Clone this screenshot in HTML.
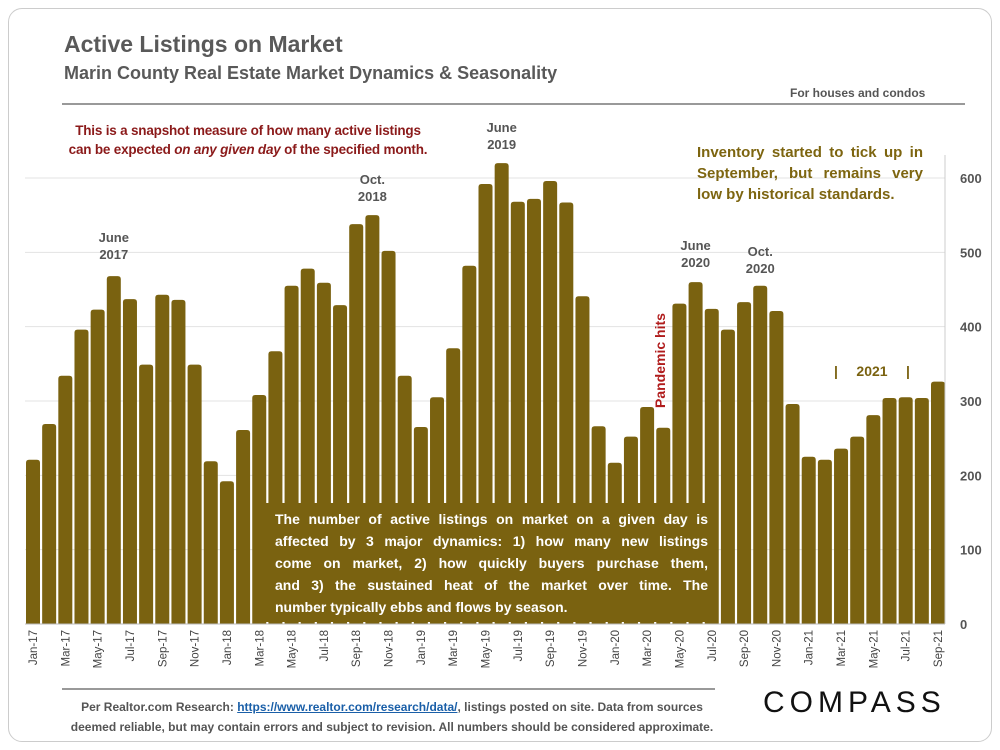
<!DOCTYPE html>
<html><head><meta charset="utf-8"><style>
body{margin:0;width:1000px;height:750px;background:#fff;font-family:"Liberation Sans",sans-serif;overflow:hidden}
.card{position:absolute;left:8px;top:8px;width:982px;height:732px;border:1.5px solid #ccc;border-radius:14px}
.t{position:absolute;font-weight:bold;white-space:nowrap}
.ln{text-align:justify;text-align-last:justify;white-space:nowrap}
</style></head><body>
<div class="card"></div>
<div class="t" style="left:64px;top:31px;font-size:23px;color:#595959">Active Listings on Market</div>
<div class="t" style="left:64px;top:63px;font-size:18px;color:#595959">Marin County Real Estate Market Dynamics &amp; Seasonality</div>
<div class="t" style="left:790px;top:86px;font-size:12px;color:#555">For houses and condos</div>
<div style="position:absolute;left:62px;top:103px;width:903px;height:2px;background:#999"></div>
<svg id="chart" width="1000" height="750" style="position:absolute;left:0;top:0"></svg>
<div class="t" style="left:40px;top:121px;width:416px;text-align:center;font-size:13.5px;letter-spacing:-0.2px;line-height:19px;color:#8b1a1a">This is a snapshot measure of how many active listings<br>can be expected <i>on any given day</i> of the specified month.</div>
<div class="t" style="left:697px;top:142px;width:226px;text-align:justify;font-size:15px;line-height:21px;color:#7d6510;white-space:normal">Inventory started to tick up in September, but remains very low by historical standards.</div>
<div class="t" style="left:265px;top:503px;width:433px;height:114px;padding:5px 10px 0 10px;background:#7a6210;color:#fff;font-size:14px;line-height:22px">
<div class="ln">The number of active listings on market on a given day is</div>
<div class="ln">affected by 3 major dynamics: 1) how many new listings</div>
<div class="ln">come on market, 2) how quickly buyers purchase them,</div>
<div class="ln">and 3) the sustained heat of the market over time. The</div>
<div>number typically ebbs and flows by season.</div>
</div>
<div style="position:absolute;left:62px;top:688px;width:653px;height:1.5px;background:#999"></div>
<div class="t" style="left:62px;top:697px;width:660px;text-align:center;font-size:12px;line-height:20px;color:#555;white-space:normal">Per Realtor.com Research: <span style="color:#1a5fa8;text-decoration:underline">https://www.realtor.com/research/data/</span>, listings posted on site. Data from sources deemed reliable, but may contain errors and subject to revision. All numbers should be considered approximate.</div>
<div class="t" style="left:763px;top:686px;font-size:30px;letter-spacing:5px;color:#111;font-weight:normal">COMPASS</div>
<script>
const months=["Jan-17","Feb-17","Mar-17","Apr-17","May-17","Jun-17","Jul-17","Aug-17","Sep-17","Oct-17","Nov-17","Dec-17","Jan-18","Feb-18","Mar-18","Apr-18","May-18","Jun-18","Jul-18","Aug-18","Sep-18","Oct-18","Nov-18","Dec-18","Jan-19","Feb-19","Mar-19","Apr-19","May-19","Jun-19","Jul-19","Aug-19","Sep-19","Oct-19","Nov-19","Dec-19","Jan-20","Feb-20","Mar-20","Apr-20","May-20","Jun-20","Jul-20","Aug-20","Sep-20","Oct-20","Nov-20","Dec-20","Jan-21","Feb-21","Mar-21","Apr-21","May-21","Jun-21","Jul-21","Aug-21","Sep-21"];
const listings=[221,269,334,396,423,468,437,349,443,436,349,219,192,261,308,367,455,478,459,429,538,550,502,334,265,305,371,482,592,620,568,572,596,567,441,266,217,252,292,264,431,460,424,396,433,455,421,296,225,221,236,252,281,304,305,304,326];
const yTicks=[0,100,200,300,400,500,600];
const svg=document.getElementById('chart');const NS='http://www.w3.org/2000/svg';
const x0=33,step=(938-33)/56,yBase=624,ppu=446/600;
const X=i=>x0+i*step, Y=v=>yBase-v*ppu;
function mk(t,a,txt){const e=document.createElementNS(NS,t);for(const k in a)e.setAttribute(k,a[k]);if(txt!=null)e.textContent=txt;svg.appendChild(e);return e;}
yTicks.forEach(v=>{
 if(v>0){const g=mk('line',{x1:25,x2:945,y1:Y(v),y2:Y(v),stroke:'#e3e3e3','stroke-width':1});
 
 }
 const t=mk('text',{x:960,y:Y(v)+5,'font-size':13,'font-weight':'bold',fill:'#555','font-family':'Liberation Sans'},v);
 
 
});
listings.forEach((v,i)=>{
 const w=14,x=X(i)-w/2,y=Y(v);
 const b=mk('path',{d:`M${x},${yBase}V${y+3}Q${x},${y} ${x+3},${y}H${x+w-3}Q${x+w},${y} ${x+w},${y+3}V${yBase}Z`,fill:'#7a6210'});
 
 
});
let ax=mk('line',{x1:25,x2:945,y1:yBase,y2:yBase,stroke:'#bbb'});


let ay=mk('line',{x1:945,x2:945,y1:155,y2:yBase,stroke:'#ccc'});


months.forEach((m,i)=>{
 if(i%2)return;
 const t=mk('text',{transform:`translate(${X(i)+4},630) rotate(-90)`,'text-anchor':'end','font-size':11.5,fill:'#444','font-family':'Liberation Sans'},m);
 
 
});
const notes=[["June","2017",5,242],["Oct.","2018",21,184],["June","2019",29,132],["June","2020",41,250],["Oct.","2020",45,256]];
notes.forEach(n=>{
 const t=mk('text',{x:X(n[2]),y:n[3],'text-anchor':'middle','font-size':13,'font-weight':'bold',fill:'#555','font-family':'Liberation Sans'});
 
 
 const a=document.createElementNS(NS,'tspan');a.setAttribute('x',X(n[2]));a.textContent=n[0];t.appendChild(a);
 const b=document.createElementNS(NS,'tspan');b.setAttribute('x',X(n[2]));b.setAttribute('dy',17);b.textContent=n[1];t.appendChild(b);
});
let p=mk('text',{transform:'translate(665,408) rotate(-90)','font-size':14,'font-weight':'bold',fill:'#b01c1c','font-family':'Liberation Sans'},'Pandemic hits');


let y21=mk('text',{x:872,y:376,'text-anchor':'middle','font-size':14,'font-weight':'bold',fill:'#7a6210','font-family':'Liberation Sans'},'2021');


let l21=mk('text',{x:836,y:376,'text-anchor':'middle','font-size':14,'font-weight':'bold',fill:'#7a6210','font-family':'Liberation Sans'},'|');


let r21=mk('text',{x:908,y:376,'text-anchor':'middle','font-size':14,'font-weight':'bold',fill:'#7a6210','font-family':'Liberation Sans'},'|');


</script>
</body></html>
